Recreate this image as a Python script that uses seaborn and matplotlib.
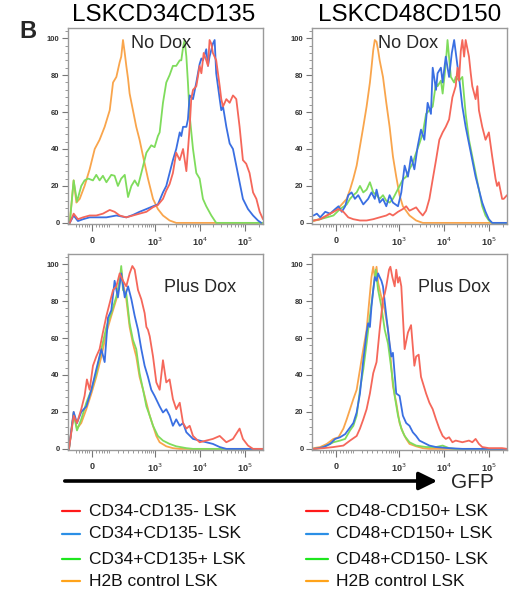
import numpy as np
import pandas as pd
import matplotlib
matplotlib.use("Agg")
import matplotlib.pyplot as plt
import seaborn as sns
from matplotlib.lines import Line2D
from matplotlib.ticker import MultipleLocator, FixedLocator

# ---------------- data (x in instrument channel units 0-1000, y = % of max) ----------------
populations = ["red", "blue", "green", "orange"]
left_labels = ["CD34-CD135- LSK", "CD34+CD135- LSK", "CD34+CD135+ LSK", "H2B control LSK"]
right_labels = ["CD48-CD150+ LSK", "CD48+CD150+ LSK", "CD48+CD150- LSK", "H2B control LSK"]
titles = ["LSKCD34CD135", "LSKCD48CD150"]
conditions = ["No Dox", "Plus Dox"]
tick_labels = ["0", "10$^3$", "10$^4$", "10$^5$"]
tick_channels = [125, 445, 677, 908]

# top-left: LSKCD34CD135, No Dox
tl_red_x = [9, 29, 51, 77, 111, 145, 179, 214, 239, 265, 299, 333, 367, 402, 436, 461, 487, 504, 521, 538,
            555, 573, 590, 607, 624, 632, 641, 658, 666, 675, 684, 696, 709, 718, 726, 735, 743, 760, 778, 786,
            795, 812, 829, 846, 855, 863, 880, 897, 914, 931, 949, 966, 983, 1000]
tl_red_y = [0, 5, 2, 3, 4, 4, 5, 7, 6, 4, 3, 4, 5, 6, 8.5, 9.7, 13, 17.5, 21, 27,
            38, 34, 40, 28, 52, 67, 72, 74, 79, 85, 81, 92, 88, 85, 99, 97, 92, 88, 74, 67,
            63, 67, 65, 69, 68, 67, 52, 34, 32, 27, 16.5, 13, 6, 2]
tl_blue_x = [9, 29, 51, 77, 111, 145, 197, 248, 299, 333, 367, 402, 436, 461, 487, 504, 521, 538, 555, 573,
             581, 590, 607, 615, 624, 641, 658, 675, 684, 692, 709, 718, 726, 743, 752, 760, 778, 786, 795, 812,
             829, 846, 863, 880, 897, 923, 949, 974, 991]
tl_blue_y = [0, 4, 1, 2, 3, 3, 3, 4, 3, 4.3, 6, 7.5, 9, 10, 16.5, 20, 27, 34, 40, 49,
             47, 52, 52, 56, 69, 67, 76, 86, 89, 88, 94, 85, 90, 97, 99, 81, 67, 61, 63, 52,
             43, 40, 31, 22, 13, 7.5, 4, 1.3, 0]
tl_green_x = [9, 29, 46, 68, 85, 103, 128, 145, 162, 179, 197, 222, 239, 256, 273, 291, 308, 325, 342, 359,
              376, 402, 427, 444, 461, 470, 487, 504, 521, 538, 555, 573, 581, 590, 598, 607, 615, 624, 641, 658,
              675, 692, 709, 735, 760, 1000]
tl_green_y = [0, 23, 11.5, 20, 23, 24, 23, 26, 23, 25.5, 22, 26, 25.5, 20, 24, 26, 14, 20, 23, 20,
              27, 38, 42, 41, 47, 49, 65, 76, 80, 85, 85, 88, 88, 95, 99, 90, 76, 58, 40, 27,
              24, 13, 9, 4, 0, 0]
tl_orange_x = [9, 29, 43, 60, 85, 111, 137, 162, 188, 214, 231, 248, 265, 273, 282, 291, 299, 308, 316, 333,
               350, 367, 385, 410, 436, 461, 487, 521, 555, 1000]
tl_orange_y = [0, 23, 11, 13, 20, 29, 40, 45, 52, 61, 76, 79, 87, 90, 99, 92, 85, 78, 70, 61,
               52, 45, 36, 24, 13, 7.5, 4, 1.3, 0, 0]

# top-right: LSKCD48CD150, No Dox
tr_red_x = [8, 42, 76, 110, 136, 161, 186, 212, 246, 280, 314, 347, 381, 398, 415, 441, 466, 483, 500, 534,
            551, 568, 585, 602, 619, 636, 653, 670, 686, 703, 720, 737, 746, 754, 763, 771, 780, 788, 805, 814,
            822, 839, 848, 856, 873, 890, 907, 924, 941, 949, 958, 975, 983, 1000]
tr_red_y = [1.3, 2, 4, 6, 7.5, 6, 3, 2, 1.3, 1.3, 2, 3, 4, 5, 4, 6, 7.5, 9, 6.6, 8.4,
            6, 4, 6.6, 13, 23.6, 34, 45, 49, 52, 56, 68, 74, 84, 77, 93, 99, 90, 99, 90, 81,
            74, 67, 74, 61, 52, 45, 49, 36, 24, 20, 22, 13, 13, 15]
tr_blue_x = [8, 25, 42, 68, 93, 119, 136, 153, 170, 186, 203, 220, 237, 263, 288, 305, 322, 331, 347, 364,
             381, 398, 415, 441, 458, 475, 492, 508, 525, 542, 559, 576, 593, 610, 619, 636, 644, 661, 670, 686,
             703, 717, 729, 746, 754, 771, 788, 805, 822, 839, 856, 873, 890, 907, 924, 1000]
tr_blue_y = [4, 5, 3, 6, 5, 7.5, 9, 6, 9, 15, 16.5, 13, 15, 10, 13, 16.5, 13, 18, 11, 13,
             9, 15, 11, 9, 16.5, 31, 25, 36, 29, 41.5, 50.5, 45, 65, 59, 84, 72, 81, 84, 76, 90,
             79, 92, 99, 85, 79, 63, 52, 43, 34, 25, 18, 11, 6, 2, 0, 0]
tr_green_x = [8, 42, 76, 110, 144, 178, 195, 212, 229, 246, 263, 280, 297, 314, 331, 347, 364, 381, 398, 415,
              432, 449, 466, 483, 500, 517, 534, 551, 568, 585, 602, 619, 636, 644, 661, 670, 686, 695, 712, 729,
              737, 754, 771, 788, 805, 822, 839, 856, 873, 890, 907, 924, 1000]
tr_green_y = [1.3, 2, 3, 4, 7.5, 10, 13, 15, 16.5, 20, 16.5, 18, 22, 16.5, 15, 13, 15, 12, 11, 13,
              16.5, 20, 23.5, 25, 29, 32.5, 38, 43, 48.5, 59, 61, 63, 76, 74, 77, 70, 86, 99, 79, 76,
              79, 77, 79, 59, 45, 36, 27, 18, 9, 4, 1.3, 0, 0]
tr_orange_x = [8, 42, 76, 110, 144, 178, 195, 212, 229, 246, 263, 280, 297, 305, 314, 322, 331, 339, 347, 364,
               381, 398, 415, 432, 449, 466, 500, 534, 568, 1000]
tr_orange_y = [1, 2, 4, 6, 9, 13, 18, 24, 31, 41.5, 52, 63, 76, 84, 93.5, 99, 98, 93.5, 88, 79,
               65, 52, 36, 25, 15, 9, 4, 1.3, 0, 0]

# bottom-left: LSKCD34CD135, Plus Dox
bl_red_x = [5, 29, 46, 68, 85, 97, 111, 128, 145, 162, 179, 197, 214, 231, 248, 265, 282, 299, 316, 330,
            342, 359, 376, 393, 402, 410, 419, 436, 453, 470, 487, 504, 521, 538, 555, 573, 590, 607, 624, 641,
            675, 709, 743, 778, 812, 846, 880, 897, 923, 949, 1000]
bl_red_y = [0, 18, 14, 21.5, 28.7, 37.6, 32, 45, 50, 54, 63, 72, 79, 86, 88, 95, 91, 88, 95, 99,
            97, 86, 81, 73.5, 66, 64.5, 61, 50, 36, 32, 48, 36, 37.6, 27, 21.5, 25, 14, 11, 12.5, 7,
            3.6, 4.5, 5.4, 7, 3.6, 5.4, 11, 5.4, 1.8, 0, 0]
bl_blue_x = [5, 29, 46, 68, 94, 120, 145, 171, 188, 205, 222, 239, 256, 273, 291, 308, 325, 342, 359, 376,
             393, 410, 427, 444, 470, 487, 504, 521, 538, 555, 573, 590, 607, 641, 675, 709, 743, 778, 812, 1000]
bl_blue_y = [0, 20, 14, 20, 23, 32, 43, 54, 47, 71, 75, 91, 82, 95, 82, 88, 81, 72, 64.5, 54,
             45, 39, 32, 28.7, 23, 19.7, 21.5, 18, 12.5, 16, 12.5, 14, 9, 5.4, 4.5, 3.6, 2.7, 1, 0, 0]
bl_green_x = [5, 29, 46, 68, 94, 120, 145, 171, 197, 222, 248, 265, 273, 282, 299, 316, 333, 350, 367, 385,
              402, 419, 436, 461, 487, 521, 555, 607, 641, 1000]
bl_green_y = [0, 19, 10, 16, 25, 32, 41, 54, 66, 73.5, 82.5, 91.4, 99, 86, 84, 68, 59, 54, 41, 32,
              23, 18, 12.5, 7, 4.5, 2.7, 1.4, 0.4, 0, 0]
bl_orange_x = [5, 29, 46, 68, 94, 120, 145, 171, 197, 222, 248, 265, 273, 282, 299, 316, 333, 350, 367, 385,
               402, 419, 436, 453, 470, 504, 538, 573, 1000]
bl_orange_y = [0, 20, 11, 14, 21.5, 30, 39, 50, 63, 72, 81, 90, 97, 90, 81, 66, 57, 50, 39, 32,
               25, 18, 12.5, 7, 3.6, 1.4, 0.4, 0, 0]

# bottom-right: LSKCD48CD150, Plus Dox
br_red_x = [8, 59, 110, 161, 195, 229, 246, 263, 280, 297, 314, 331, 347, 364, 373, 381, 395, 402, 412, 424,
            432, 441, 449, 458, 466, 475, 492, 508, 525, 534, 547, 559, 585, 602, 619, 636, 653, 670, 686, 703,
            720, 737, 771, 805, 822, 839, 856, 873, 907, 975, 1000]
br_red_y = [0, 0.4, 1, 1.8, 4.5, 7, 11, 16, 21.5, 30, 41, 47, 64.5, 81, 84, 88, 97, 98.6, 93, 88,
            97, 90, 93, 88, 72, 54, 63, 67, 45, 50, 51, 39, 30, 25, 21.5, 16, 11, 7, 5.4, 6.3,
            3.6, 4.5, 3.6, 4.5, 3.6, 5.4, 2.7, 1, 0.4, 0.4, 0]
br_blue_x = [8, 34, 59, 93, 119, 144, 170, 195, 212, 229, 246, 263, 280, 288, 297, 305, 314, 322, 331, 339,
             347, 356, 364, 381, 398, 407, 415, 432, 449, 466, 483, 500, 517, 534, 551, 568, 602, 636, 703, 771,
             1000]
br_blue_y = [0, 0.4, 1, 2.7, 5.4, 6.3, 8, 11.6, 14, 19.7, 30, 48, 63, 68, 66, 77, 86, 93, 91, 95,
             93, 91, 88, 72, 57, 50, 52, 30, 28.7, 18, 14, 12.5, 9, 7, 4.5, 3.6, 1.8, 1, 0.4, 0,
             0]
br_green_x = [8, 42, 76, 110, 144, 170, 195, 212, 229, 246, 263, 280, 297, 314, 327, 339, 356, 373, 390, 407,
              424, 441, 458, 475, 500, 534, 585, 636, 670, 703, 737, 1000]
br_green_y = [0, 0.4, 1.8, 3.6, 4.5, 5.4, 10, 12.5, 18, 32, 43, 57, 72, 86, 97, 86, 77, 64.5, 57, 43,
              28.7, 18, 11, 7, 3.6, 1.8, 1, 1, 1.8, 0.4, 0, 0]
br_orange_x = [8, 42, 76, 110, 136, 161, 178, 195, 212, 229, 246, 263, 280, 297, 305, 314, 322, 331, 339, 356,
               373, 390, 398, 415, 432, 449, 466, 483, 500, 534, 568, 602, 1000]
br_orange_y = [0.4, 1, 2.7, 5.4, 6.3, 11, 16, 21.5, 27, 32, 43, 54, 64.5, 84, 93, 98.6, 93, 98.6, 90, 82,
               75, 64.5, 56, 34, 25, 14, 9, 5.4, 2.7, 1.4, 0.4, 0, 0]

# ---------------- styling ----------------
line_palette = {"red": "#f5675a", "blue": "#3a6fe2", "green": "#7fdc5c", "orange": "#f9a54c"}
legend_palette = {"red": "#ff1a1a", "blue": "#2b8fe6", "green": "#1ee61e", "orange": "#ffa31a"}
draw_order = ["orange", "green", "blue", "red"]

sns.set_theme(style="white")
plt.rcParams["font.family"] = ["Liberation Sans", "DejaVu Sans"]

W, H = 509, 596
fig = plt.figure(figsize=(W / 100, H / 100), dpi=100)


def fx(px):
    return px / W


def fy(py):
    return 1 - py / H


panels = {
    (0, 0): {"red": (tl_red_x, tl_red_y), "blue": (tl_blue_x, tl_blue_y),
             "green": (tl_green_x, tl_green_y), "orange": (tl_orange_x, tl_orange_y)},
    (0, 1): {"red": (tr_red_x, tr_red_y), "blue": (tr_blue_x, tr_blue_y),
             "green": (tr_green_x, tr_green_y), "orange": (tr_orange_x, tr_orange_y)},
    (1, 0): {"red": (bl_red_x, bl_red_y), "blue": (bl_blue_x, bl_blue_y),
             "green": (bl_green_x, bl_green_y), "orange": (bl_orange_x, bl_orange_y)},
    (1, 1): {"red": (br_red_x, br_red_y), "blue": (br_blue_x, br_blue_y),
             "green": (br_green_x, br_green_y), "orange": (br_orange_x, br_orange_y)},
}

ax_left = [68, 312]
ax_top = [28, 254]
ax_w, ax_h = 195, 196

minor_x = [40, 58, 72, 86, 98, 108, 142, 158, 172, 186, 198, 210,
           256, 282, 308, 333, 359, 380, 395, 405, 415, 425, 434,
           514, 555, 584, 606, 625, 640, 653, 665,
           746, 787, 816, 838, 856, 872, 885, 897,
           977]

for (r, c), curves in panels.items():
    ax = fig.add_axes([fx(ax_left[c]), fy(ax_top[r] + ax_h), fx(ax_w), ax_h / H])
    rows = []
    for pop in draw_order:
        xs, ys = curves[pop]
        rows.append(pd.DataFrame({"channel": xs, "count": ys, "population": pop}))
    df = pd.concat(rows, ignore_index=True)
    sns.lineplot(data=df, x="channel", y="count", hue="population", hue_order=draw_order,
                 palette=line_palette, estimator=None, sort=False, legend=False,
                 linewidth=1.3, ax=ax)
    ax.set_xlim(0, 1000)
    ax.set_ylim(-0.6, 105.5)
    ax.set_xlabel("")
    ax.set_ylabel("")
    ax.set_xticks(tick_channels)
    ax.set_xticklabels(tick_labels)
    ax.xaxis.set_minor_locator(FixedLocator(minor_x))
    ax.set_yticks([0, 20, 40, 60, 80, 100])
    ax.yaxis.set_minor_locator(MultipleLocator(4))
    ax.tick_params(axis="both", which="major", direction="out", length=4, width=0.8,
                   color="#777777", pad=2, bottom=True, left=True)
    ax.tick_params(axis="both", which="minor", direction="out", length=2, width=0.6,
                   color="#888888", bottom=True, left=True)
    ax.tick_params(axis="x", which="major", length=5, pad=3.5)
    for lab in ax.get_xticklabels():
        lab.set_fontsize(6.5)
        lab.set_fontweight("bold")
        lab.set_color("#333333")
    for lab in ax.get_yticklabels():
        lab.set_fontsize(5.5)
        lab.set_fontweight("bold")
        lab.set_color("#333333")
    for sp in ax.spines.values():
        sp.set_color("#9a9a9a")
        sp.set_linewidth(1.0)
    ax.set_facecolor("white")

# titles and annotations
fig.text(fx(164), fy(15), titles[0], fontsize=17.5, ha="center", va="center", color="black")
fig.text(fx(410), fy(15), titles[1], fontsize=17.5, ha="center", va="center", color="black")
fig.text(fx(28), fy(31), "B", fontsize=17, fontweight="bold", ha="center", va="center")
fig.text(fx(161), fy(43), conditions[0], fontsize=13, ha="center", va="center")
fig.text(fx(408), fy(43), conditions[0], fontsize=13, ha="center", va="center")
fig.text(fx(200), fy(288), conditions[1], fontsize=13, ha="center", va="center")
fig.text(fx(454), fy(288), conditions[1], fontsize=13, ha="center", va="center")

# GFP arrow
fig.add_artist(matplotlib.patches.FancyArrowPatch(
    (fx(62), fy(481)), (fx(440), fy(481)), transform=fig.transFigure,
    arrowstyle="-|>,head_length=0.55,head_width=0.27", mutation_scale=20,
    linewidth=2.6, color="black"))
fig.text(fx(472), fy(483), "GFP", fontsize=15, ha="center", va="center")

# legends
row_y = [511, 534, 559, 581]
for labels, lx0, lx1, tx in [(left_labels, 62, 80, 89), (right_labels, 306, 328, 336)]:
    for pop, lab, yy in zip(populations, labels, row_y):
        fig.add_artist(Line2D([fx(lx0), fx(lx1)], [fy(yy), fy(yy)], transform=fig.transFigure,
                              color=legend_palette[pop], linewidth=1.6))
        fig.text(fx(tx), fy(yy), lab, fontsize=12.5, ha="left", va="center", color="#111111")

fig.savefig("out.png", dpi=100, facecolor="white")
